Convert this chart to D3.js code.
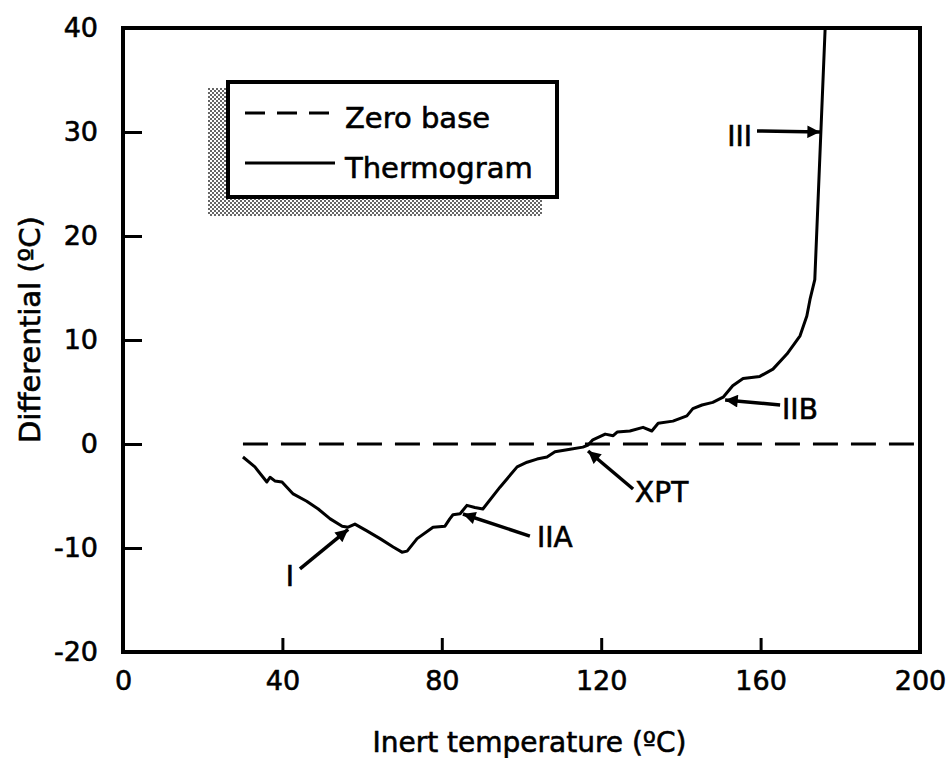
<!DOCTYPE html>
<html>
<head>
<meta charset="utf-8">
<script src="https://cdn.jsdelivr.net/npm/d3@7/dist/d3.min.js"></script>
<style>
  body { margin: 0; background: #fff; }
  text { font-family: "DejaVu Sans", "Liberation Sans", sans-serif; fill: #000; stroke: #000; stroke-width: 0.6px; }
</style>
</head>
<body>
<svg id="chart" width="951" height="758"></svg>
<script>
// thermogram: inert temperature (C) vs differential (C)
const temps = [30.1, 33.1, 36.1, 36.9, 38.1, 39.9, 42.7, 46.1, 49, 52, 55, 56.5, 58.2, 61.2,
  64.5, 67.8, 70, 71.3, 73.8, 77.8, 80.8, 82, 82.8, 84.6, 86.3, 88.3, 90.3, 94.6, 98.9, 101.4,
  103.9, 106.4, 108.4, 112.2, 115.4, 116.7, 117.9, 121, 123, 124, 127.2, 130.5, 132.7, 134.3,
  138, 141.5, 143, 145.3, 148, 150.6, 153, 155.6, 159.8, 163.1, 166.6, 169.9, 171.6, 172.4,
  173.6, 176.2]
const diffs = [-1.25, -2.2, -3.65, -3.2, -3.55, -3.65, -4.8, -5.5, -6.25, -7.2, -7.9, -8.0, -7.7, -8.35,
  -9.1, -9.9, -10.4, -10.3, -9.1, -8.0, -7.9, -7.2, -6.8, -6.7, -5.9, -6.1, -6.25, -4.15, -2.2, -1.75,
  -1.45, -1.25, -0.75, -0.5, -0.3, -0.1, 0.4, 0.95, 0.8, 1.15, 1.25, 1.6, 1.25, 2.0,
  2.2, 2.7, 3.4, 3.75, 4.0, 4.5, 5.6, 6.3, 6.5, 7.2, 8.65, 10.4, 12.3, 13.9,
  15.8, 40]

// zero base runs from the start of the run to the right edge
const zeroBase = [[30.1, 0], [200, 0]]

const xTicks = [0, 40, 80, 120, 160, 200]
const yTicks = [-20, -10, 0, 10, 20, 30, 40]

// annotation labels: arrow tail, arrow tip, text start (data units)
const noteLabels = ["I", "IIA", "XPT", "IIB", "III"]
const noteTails = [[44.4, -12.0], [102.1, -8.85], [128, -4.33], [164.9, 3.75], [159.1, 30.1]]
const noteTips = [[56.5, -8.2], [85.3, -6.73], [116.7, -0.67], [151.1, 4.23], [174.9, 30.0]]
const noteText = [[41.9, -13.65], [103.9, -9.9], [128.5, -5.6], [165.4, 2.4], [151.6, 28.65]]
const noteAnchor = ["middle", "start", "start", "start", "start"]

const legendLabels = ["Zero base", "Thermogram"]

const margin = { top: 28, left: 123 }
const width = 797, height = 624

const svg = d3.select("#chart")

const defs = svg.append("defs")
defs.append("marker")
    .attr("id", "head")
    .attr("viewBox", "0 0 10 10")
    .attr("refX", 10).attr("refY", 5)
    .attr("markerWidth", 5.5).attr("markerHeight", 3.6)
    .attr("markerUnits", "strokeWidth")
    .attr("orient", "auto")
  .append("path")
    .attr("d", "M0,0 L10,5 L0,10 Z")
    .attr("fill", "#000")

let pat = defs.append("pattern")
    .attr("id", "dots")
    .attr("width", 4).attr("height", 4)
    .attr("patternUnits", "userSpaceOnUse")
pat.append("rect").attr("width", 4).attr("height", 4).attr("fill", "#fff")
pat.append("rect").attr("width", 2).attr("height", 2).attr("fill", "#666")
pat.append("rect").attr("x", 2).attr("y", 2).attr("width", 2).attr("height", 2).attr("fill", "#666")

const g = svg.append("g").attr("transform", `translate(${margin.left},${margin.top})`)

const x = d3.scaleLinear().domain([0, 200]).range([0, width])
const y = d3.scaleLinear().domain([-20, 40]).range([height, 0])

// axes with inward ticks, plain hyphen for negatives
let yAxis = g.append("g")
    .call(d3.axisLeft(y).tickValues(yTicks).tickFormat(d => String(d))
        .tickSizeInner(-19).tickSizeOuter(0).tickPadding(25))
yAxis.select(".domain").remove()
yAxis.selectAll(".tick line")
    .attr("stroke-width", 3)
    .attr("opacity", d => (d === -20 || d === 40) ? 0 : 1)
yAxis.selectAll("text")
    .attr("font-size", 27)

let xAxis = g.append("g")
    .attr("transform", `translate(0,${height})`)
    .call(d3.axisBottom(x).tickValues(xTicks).tickFormat(d => String(d))
        .tickSizeInner(-14).tickSizeOuter(0).tickPadding(19))
xAxis.select(".domain").remove()
xAxis.selectAll(".tick line")
    .attr("stroke-width", 3)
    .attr("opacity", d => (d === 0 || d === 200) ? 0 : 1)
xAxis.selectAll("text")
    .attr("font-size", 27)

// frame
g.append("rect")
    .attr("width", width).attr("height", height)
    .attr("fill", "none").attr("stroke", "#000").attr("stroke-width", 4)

// axis titles
svg.append("text")
    .attr("x", margin.left + x(102)).attr("y", 752)
    .attr("text-anchor", "middle")
    .attr("font-size", 28)
    .text("Inert temperature (ºC)")

svg.append("text")
    .attr("transform", `translate(40,${margin.top + y(11)}) rotate(-90)`)
    .attr("text-anchor", "middle")
    .attr("font-size", 29)
    .text("Differential (ºC)")

const line = d3.line().x(d => x(d[0])).y(d => y(d[1]))

g.append("path")
    .datum(zeroBase)
    .attr("d", line)
    .attr("fill", "none").attr("stroke", "#000")
    .attr("stroke-width", 3).attr("stroke-dasharray", "25,13")

g.append("path")
    .datum(temps.map((t, i) => [t, diffs[i]]))
    .attr("d", line)
    .attr("fill", "none").attr("stroke", "#000")
    .attr("stroke-width", 3).attr("stroke-linejoin", "round")

// annotations
noteLabels.forEach((lab, i) => {
    g.append("line")
        .attr("x1", x(noteTails[i][0])).attr("y1", y(noteTails[i][1]))
        .attr("x2", x(noteTips[i][0])).attr("y2", y(noteTips[i][1]))
        .attr("stroke", "#000").attr("stroke-width", 3.5)
        .attr("marker-end", "url(#head)")
    g.append("text")
        .attr("x", x(noteText[i][0])).attr("y", y(noteText[i][1]))
        .attr("text-anchor", noteAnchor[i])
        .attr("font-size", 28)
        .text(lab)
})

// legend with halftone shadow
let lg = svg.append("g")
lg.append("rect")
    .attr("x", 208).attr("y", 88).attr("width", 334).attr("height", 128)
    .attr("fill", "url(#dots)")
lg.append("rect")
    .attr("x", 228).attr("y", 82).attr("width", 329).attr("height", 115)
    .attr("fill", "#fff").attr("stroke", "#000").attr("stroke-width", 4)

legendLabels.forEach((lab, i) => {
    let ly = 113 + i * 50
    lg.append("line")
        .attr("x1", 245).attr("x2", 335).attr("y1", ly).attr("y2", ly)
        .attr("stroke", "#000").attr("stroke-width", 3)
        .attr("stroke-dasharray", i === 0 ? "20,12" : null)
    lg.append("text")
        .attr("x", 345).attr("y", ly + 15)
        .attr("font-size", 29)
        .text(lab)
})
</script>
</body>
</html>
